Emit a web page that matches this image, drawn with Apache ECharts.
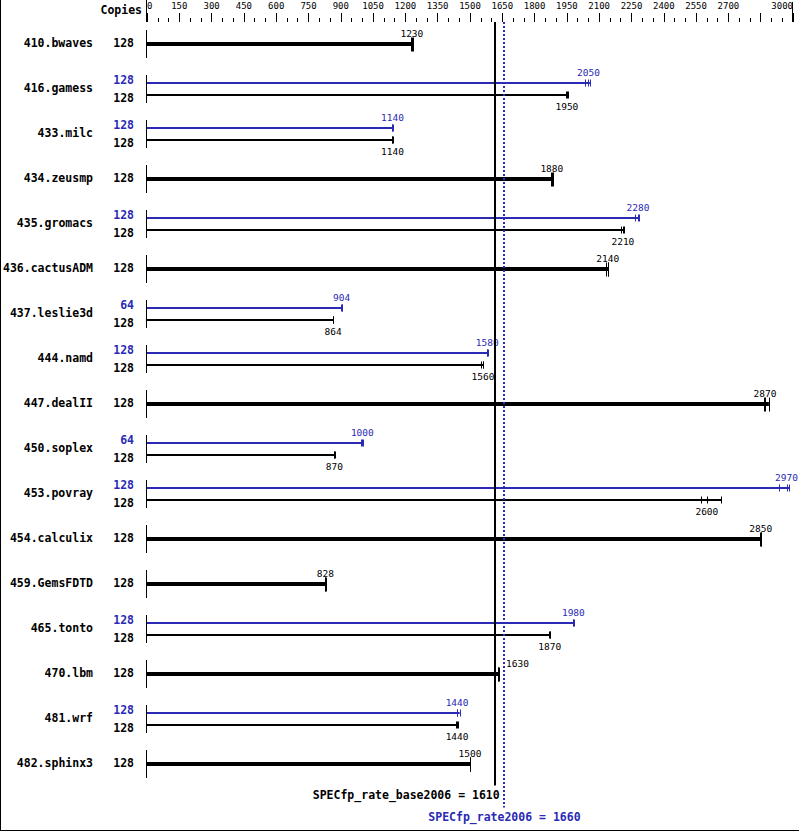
<!DOCTYPE html>
<html><head><meta charset="utf-8">
<script src="https://cdn.jsdelivr.net/npm/echarts@6/dist/echarts.min.js"></script>
<style>html,body{margin:0;padding:0;background:#fff}#c{width:799px;height:831px}</style>
</head><body><div id="c"></div><script>
// ---- data ----
const benchmarks = ['410.bwaves','416.gamess','433.milc','434.zeusmp','435.gromacs','436.cactusADM','437.leslie3d','444.namd','447.dealII','450.soplex','453.povray','454.calculix','459.GemsFDTD','465.tonto','470.lbm','481.wrf','482.sphinx3'];
const baseCopies = [128,128,128,128,128,128,128,128,128,128,128,128,128,128,128,128,128];
const peakCopies = [null,128,128,null,128,null,64,128,null,64,128,null,null,128,null,128,null];
const baseValues = [1230,1950,1140,1880,2210,2140,864,1560,2870,870,2600,2850,828,1870,1630,1440,1500];
const baseRunMin = [1227,1947,1137,1877,2200,2132,862,1552,2864,867,2574,2848,826,1866,1628,1436,1498];
const baseRunMax = [1233,1953,1142,1884,2213,2143,866,1562,2888,872,2666,2853,830,1872,1633,1446,1502];
const peakValues = [null,2050,1140,null,2280,null,904,1580,null,1000,2970,null,null,1980,null,1440,null];
const peakRunMin = [null,2033,1138,null,2268,null,902,1577,null,996,2933,null,null,1978,null,1440,null];
const peakRunMax = [null,2057,1142,null,2283,null,906,1583,null,1003,2982,null,null,1984,null,1452,null];
const baseScore = [1610];
const peakScore = [1660];
const axisMin = 0, axisMax = 3000, axisStep = 150;
const hiddenTickLabels = [2850];

const BLUE = '#2a2ab4';
const MONO = '"DejaVu Sans Mono", monospace';
const BOLD = 'bold 11.5px ' + MONO;
const SMALL = '9.5px ' + MONO;

const chart = echarts.init(document.getElementById('c'), null, {renderer: 'svg'});

function px(v){ return Math.round(v) + 0.5; }

function rowItem(params, api) {
  const i = params.dataIndex;
  const x0 = api.coord([0, i])[0];
  const c = Math.round(api.coord([0, i])[1]);
  const xBase = api.coord([baseScore[0], i])[0];
  const ch = [];
  // axis segment
  ch.push({type:'line', shape:{x1:px(x0)-1, y1:c-13, x2:px(x0)-1, y2:c+15}, style:{stroke:'#000', lineWidth:1}});
  const hasPeak = peakValues[i] != null;
  function drawBar(val, lo, hi, y, h, tickTop, tickBot, color, labelY, labelAboveRight) {
    const xe = api.coord([hi, i])[0];
    ch.push({type:'rect', shape:{x:x0, y:y, width:xe - x0, height:h}, style:{fill:color}});
    [lo, val, hi].forEach(function(r){
      const xr = px(api.coord([r, i])[0]);
      ch.push({type:'line', shape:{x1:xr, y1:tickTop, x2:xr, y2:tickBot}, style:{stroke:color, lineWidth:1}});
    });
    const xm = api.coord([val, i])[0];
    let align = 'center', lx = xm;
    if (labelAboveRight && Math.abs(xm - xBase) < 14) { align = 'left'; lx = xm + 8; }
    ch.push({type:'text', style:{text:String(val), x:lx, y:labelY, align:align, verticalAlign:'middle', font:SMALL, fill:color}});
  }
  if (hasPeak) {
    drawBar(peakValues[i], peakRunMin[i], peakRunMax[i], c-6, 2, c-8.5, c-1.5, BLUE, c-16, false);
    drawBar(baseValues[i], baseRunMin[i], baseRunMax[i], c+6, 2, c+3.5, c+10.5, '#000', c+18, false);
    ch.push({type:'text', style:{text:String(peakCopies[i]), x:x0-13, y:c-8, align:'right', verticalAlign:'middle', font:BOLD, fill:BLUE}});
    ch.push({type:'text', style:{text:String(baseCopies[i]), x:x0-13, y:c+10, align:'right', verticalAlign:'middle', font:BOLD, fill:'#000'}});
  } else {
    drawBar(baseValues[i], baseRunMin[i], baseRunMax[i], c-1, 4, c-5.5, c+8.5, '#000', c-10, true);
    ch.push({type:'text', style:{text:String(baseCopies[i]), x:x0-13, y:c, align:'right', verticalAlign:'middle', font:BOLD, fill:'#000'}});
  }
  return {type:'group', children:ch};
}

function scoreItem(params, api) {
  const cs = params.coordSys;
  const xb = api.coord([baseScore[0], 0])[0];
  const xp = api.coord([peakScore[0], 0])[0];
  const x0 = api.coord([axisMin, 0])[0];
  const x1 = api.coord([axisMax, 0])[0];
  const top = cs.y + 1.5, bot = cs.y + cs.height;
  return {type:'group', children:[
    {type:'line', shape:{x1:px(x0)-1, y1:0, x2:px(x0)-1, y2:top}, style:{stroke:'#000', lineWidth:1}},
    {type:'line', shape:{x1:px(x1)-1, y1:2, x2:px(x1)-1, y2:top}, style:{stroke:'#000', lineWidth:1}},
    {type:'line', shape:{x1:Math.round(xb)+1, y1:top, x2:Math.round(xb)+1, y2:bot}, style:{stroke:'#000', lineWidth:2}},
    {type:'line', shape:{x1:Math.round(xp), y1:top, x2:Math.round(xp), y2:bot+22}, style:{stroke:BLUE, lineWidth:2, lineDash:[2,2]}},
    {type:'text', style:{text:'SPECfp_rate_base2006 = ' + baseScore[0], x:xb+6, y:bot+9.5, align:'right', verticalAlign:'middle', font:BOLD, fill:'#000'}},
    {type:'text', style:{text:'SPECfp_rate2006 = ' + peakScore[0], x:xp, y:bot+31, align:'center', verticalAlign:'middle', font:BOLD, fill:BLUE}}
  ]};
}

chart.setOption({
  animation: false,
  backgroundColor: '#fff',
  grid: {left: 147, right: 6, top: 20.5, height: 765, containLabel: false},
  xAxis: {
    type: 'value', position: 'top', min: axisMin, max: axisMax, interval: axisStep, offset: -1.5,
    axisLine: {show: false},
    axisTick: {show: true, length: 9, lineStyle: {color: '#000', width: 1}},
    minorTick: {show: true, splitNumber: 3, length: 4, lineStyle: {color: '#000', width: 1}},
    splitLine: {show: false}, minorSplitLine: {show: false},
    axisLabel: {
      color: '#000', fontFamily: MONO, fontSize: 9, margin: 12,
      alignMinLabel: 'left', alignMaxLabel: 'right', showMinLabel: true, showMaxLabel: true,
      formatter: function(v){ return hiddenTickLabels.indexOf(v) >= 0 ? '' : String(v); }
    }
  },
  yAxis: {
    type: 'category', data: benchmarks, inverse: true,
    axisLine: {show: false}, axisTick: {show: false}, splitLine: {show: false},
    axisLabel: {color: '#000', fontFamily: MONO, fontWeight: 'bold', fontSize: 11.5, margin: 54}
  },
  graphic: [
    {type:'text', left: null, style:{text:'Copies', x:142, y:10, align:'right', verticalAlign:'middle', font:BOLD, fill:'#000'}},
    {type:'line', shape:{x1:0.5, y1:0, x2:0.5, y2:831}, style:{stroke:'#000', lineWidth:1}},
    {type:'line', shape:{x1:0, y1:830.5, x2:799, y2:830.5}, style:{stroke:'#000', lineWidth:1}}
  ],
  series: [
    {type:'custom', clip:false, silent:true, renderItem: rowItem,
     data: benchmarks.map(function(b, i){ return [baseValues[i], i]; }), encode:{x:0, y:1}},
    {type:'custom', clip:false, silent:true, renderItem: scoreItem,
     data: [[baseScore[0], 0]], encode:{x:0, y:1}}
  ]
});
</script></body></html>
